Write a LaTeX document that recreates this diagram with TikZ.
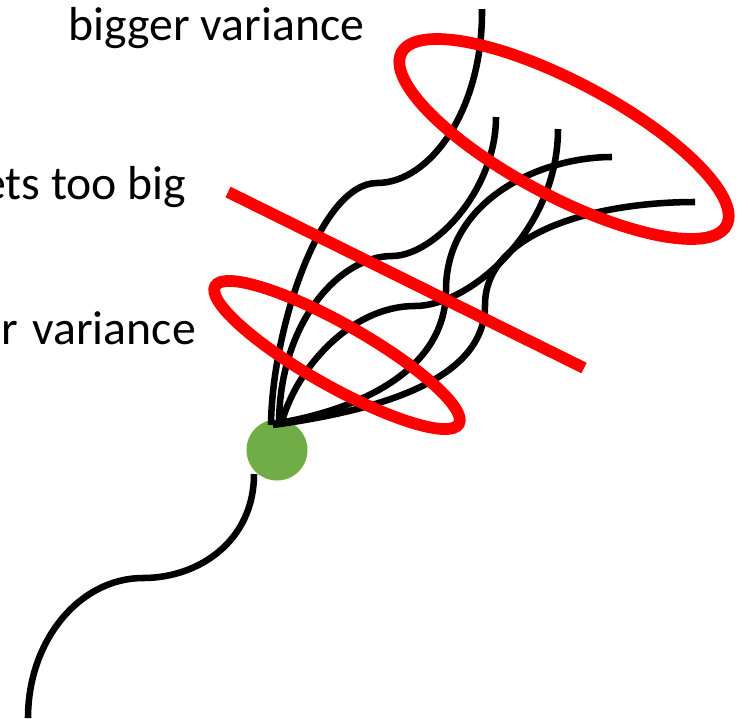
\documentclass[tikz,border=0pt]{standalone}
\usepackage{fontspec}
\setmainfont{Carlito}
\definecolor{dotgreen}{HTML}{70AD47}
\definecolor{ringred}{HTML}{FF0000}
\begin{document}
\begin{tikzpicture}[x=0.75pt,y=-0.75pt,
  blk/.style={line width=4.9pt, draw=black},
  redl/.style={line width=8.8pt, draw=ringred},
  lbl/.style={font=\fontsize{35.8}{42}\selectfont, inner sep=0pt, text=black}]
\useasboundingbox (0,0) rectangle (748,718);
\clip (0,0) rectangle (748,718);
% labels
\node[lbl, anchor=base west] (big) at (68.5,40) {bigger variance};
\node[lbl, anchor=base east] (toobig) at (186.5,199) {ets too big};
\node[lbl, anchor=base east] (small) at (196,344) {r\hspace{3pt} variance};
% green dot
\node[circle, fill=dotgreen, inner sep=0pt, minimum size=45.75pt] (dot) at (277,450) {};
% coordinates
\coordinate (o1) at (271,425);
\coordinate (o2) at (279,425);
\coordinate (o3) at (281,425);
\coordinate (o4) at (273,424);
\coordinate (o5) at (273,425);
\coordinate (e1) at (482,9);
\coordinate (e2) at (496,117);
\coordinate (e3) at (558,129);
\coordinate (e4) at (612,157);
\coordinate (e5) at (695,202);
\coordinate (b0) at (254,474);
\coordinate (b1) at (28,718);
% past path
\draw[blk] (b0) .. controls (254,540) and (200,578) .. (143,578)
  .. controls (80,578) and (28,640) .. (b1);
% fan of futures
\draw[blk] (o1) .. controls (272,330) and (320,183) .. (377,183)
  .. controls (430,183) and (483,110) .. (e1);
\draw[blk] (o2) .. controls (279,322) and (340,256) .. (392,256)
  .. controls (434,256) and (496,190) .. (e2);
\draw[blk] (o3) .. controls (295,370) and (350,306) .. (415,306)
  .. controls (470,306) and (558,230) .. (e3);
\draw[blk] (o4) .. controls (360,410) and (446,370) .. (446,290)
  .. controls (446,200) and (540,157) .. (e4);
\draw[blk] (o5) .. controls (380,410) and (485,380) .. (485,305)
  .. controls (485,230) and (600,202) .. (e5);
% red marks
\draw[redl, shift={(564,139)}, rotate=-28] (0,0) ellipse [x radius=184, y radius=57];
\draw[redl, shift={(337,355)}, rotate=-29.5] (0,0) ellipse [x radius=140, y radius=31];
\coordinate (r0) at (228,192);
\coordinate (r1) at (584,368);
\draw[redl] (r0) -- (r1);
\end{tikzpicture}
\end{document}
